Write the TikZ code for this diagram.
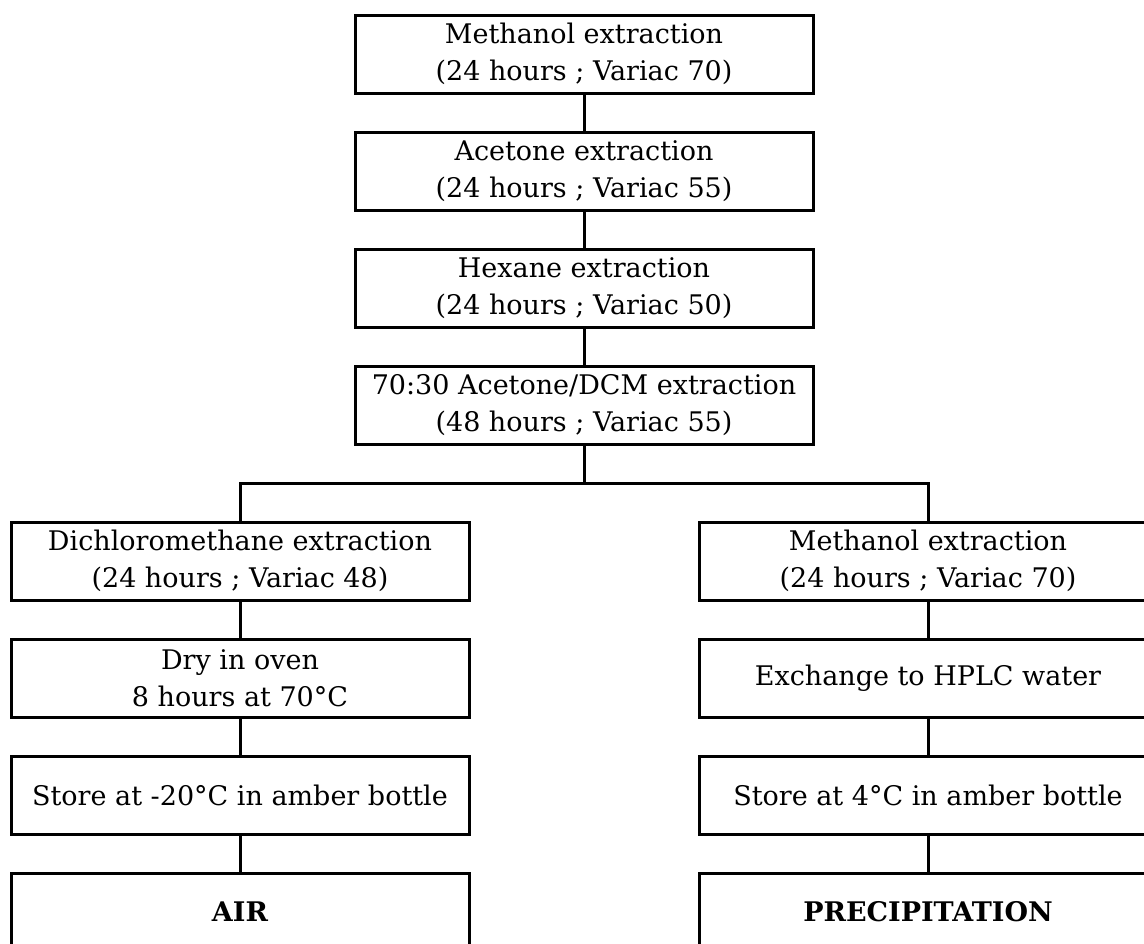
\documentclass[tikz,border=0pt]{standalone}
\usepackage{fontspec}
\setmainfont{DejaVu Serif}
\usetikzlibrary{positioning}
\tikzset{
  stepbox/.style={
    draw=black, line width=1.5pt, fill=white,
    minimum width=229pt, minimum height=39pt, align=center,
    inner sep=0pt, font=\fontsize{13.5}{18.5}\selectfont
  },
  endbox/.style={stepbox, font=\fontsize{13.5}{18.5}\selectfont\bfseries},
  link/.style={draw=black, line width=1.5pt}
}

\begin{document}
\begin{tikzpicture}[node distance=18pt]
    \fill[white] (0,0) rectangle (572pt,-471.5pt);
    \useasboundingbox (0,0) rectangle (572pt,-471.5pt);
    % main extraction line
    \node[stepbox] (meth) at (292pt,-27pt) {Methanol extraction\\(24 hours ; Variac 70)};
    \node[stepbox,below=of meth] (acet) {Acetone extraction\\(24 hours ; Variac 55)};
    \node[stepbox,below=of acet] (hex) {Hexane extraction\\(24 hours ; Variac 50)};
    \node[stepbox,below=of hex] (mix) {70:30 Acetone/DCM extraction\\(48 hours ; Variac 55)};
    \coordinate[below=19pt of mix] (split);
    % air samples
    \node[stepbox,below=37.5pt of mix,xshift=-172pt] (dcm) {Dichloromethane extraction\\(24 hours ; Variac 48)};
    \node[stepbox,below=of dcm] (dry) {Dry in oven\\8 hours at 70°C};
    \node[stepbox,below=of dry] (storeair) {Store at -20°C in amber bottle};
    \node[endbox,below=of storeair] (air) {AIR};
    % precipitation samples
    \node[stepbox,below=37.5pt of mix,xshift=172pt] (methb) {Methanol extraction\\(24 hours ; Variac 70)};
    \node[stepbox,below=of methb] (hplc) {Exchange to HPLC water};
    \node[stepbox,below=of hplc] (storeprec) {Store at 4°C in amber bottle};
    \node[endbox,below=of storeprec] (prec) {PRECIPITATION};
    \draw[link] (meth)--(acet);
    \draw[link] (acet)--(hex);
    \draw[link] (hex)--(mix);
    \draw[link] (mix)--(split);
    \draw[link] (split) -| (dcm);
    \draw[link] (split) -| (methb);
    \draw[link] (dcm)--(dry);
    \draw[link] (dry)--(storeair);
    \draw[link] (storeair)--(air);
    \draw[link] (methb)--(hplc);
    \draw[link] (hplc)--(storeprec);
    \draw[link] (storeprec)--(prec);
  \end{tikzpicture}
\end{document}
